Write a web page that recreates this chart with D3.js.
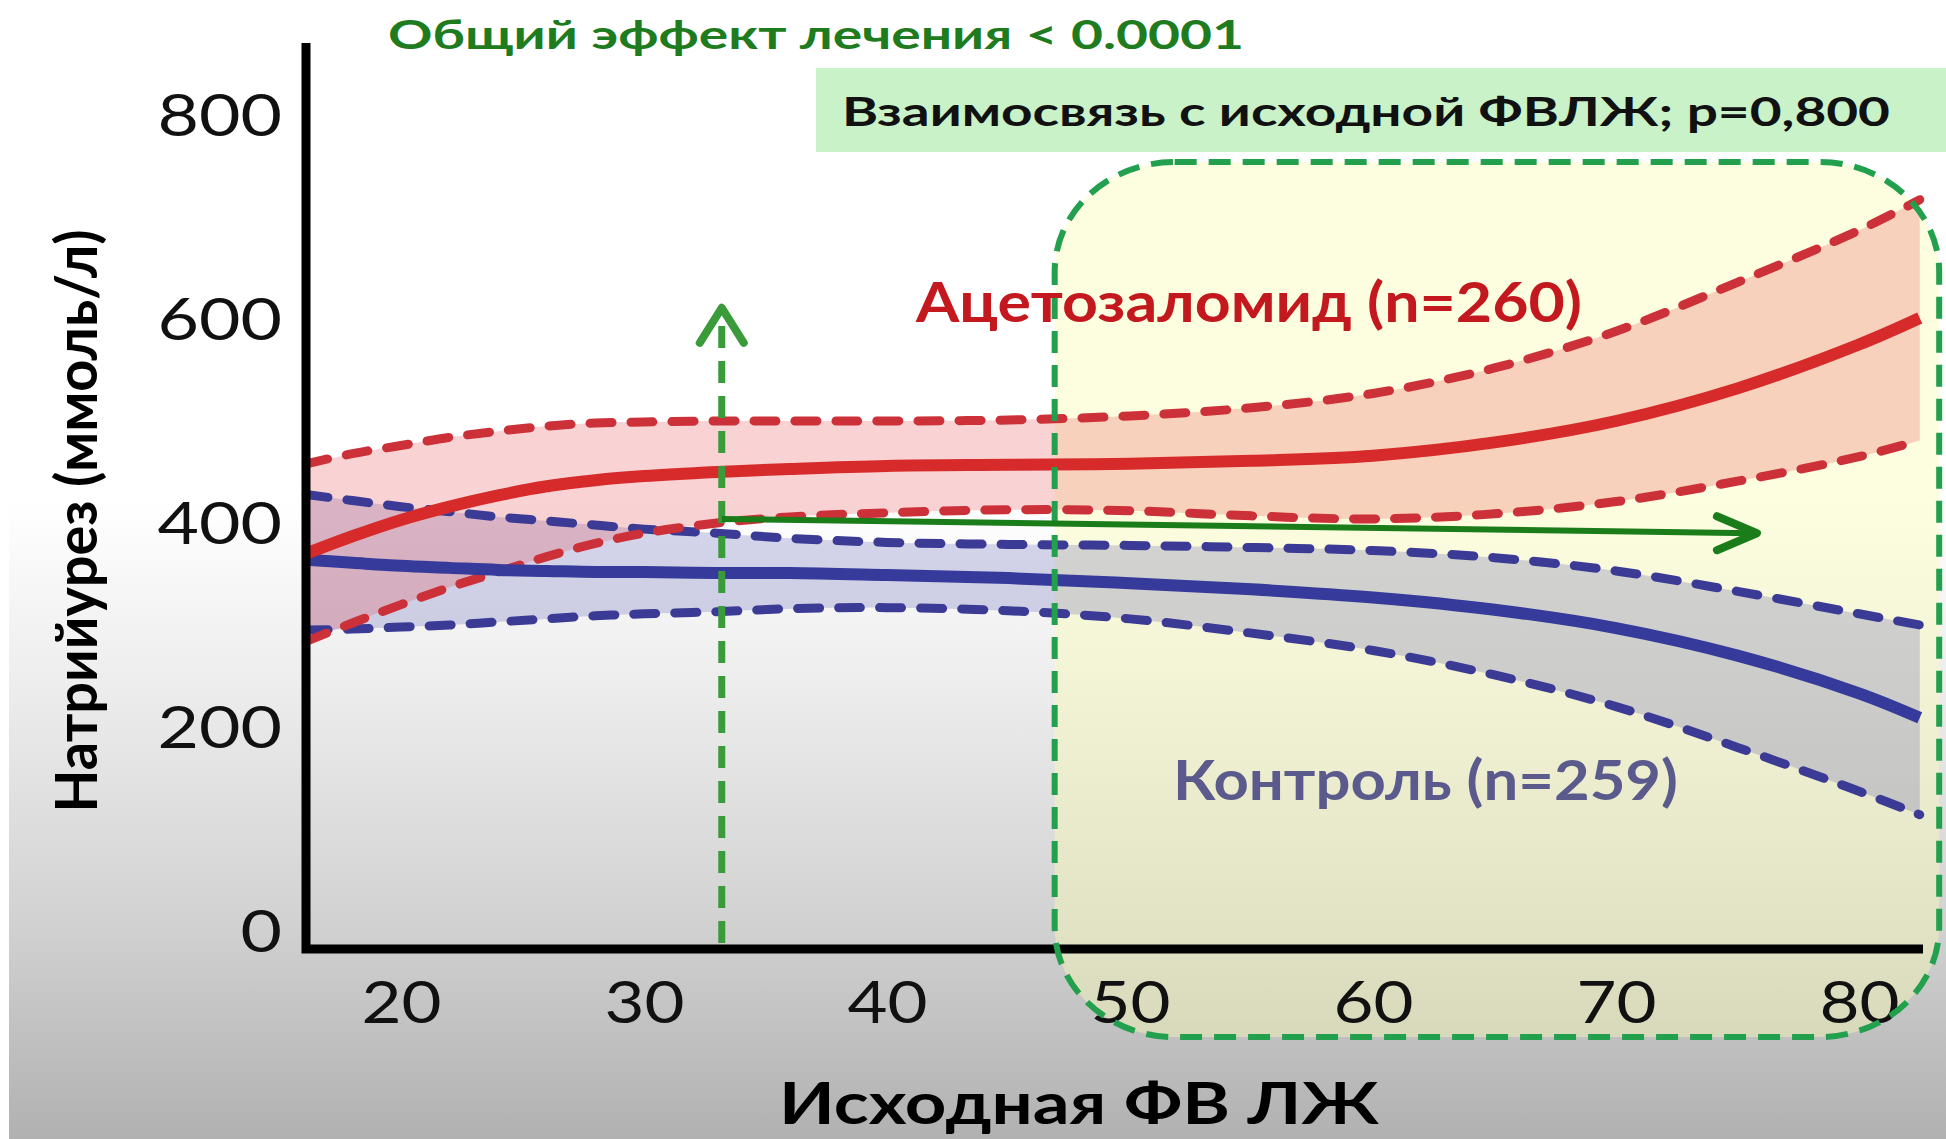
<!DOCTYPE html>
<html>
<head>
<meta charset="utf-8">
<script src="https://cdn.jsdelivr.net/npm/d3@7"></script>
<style>
  html, body { margin: 0; padding: 0; background: #fff; }
  svg { display: block; }
</style>
</head>
<body>
<svg id="chart" width="1946" height="1139"></svg>
<script>
// Baseline LVEF (%) at which the fitted curves are sampled
const efGrid = [16.1, 18, 20, 22, 24, 26, 28, 30, 33, 36, 40, 45, 50, 55, 60, 65, 70, 75, 80, 82.5];

// Natriuresis (mmol/l): acetazolamide arm, mean and 95% CI bounds
const acetoMean  = [370, 387, 403, 416, 427, 436, 442, 446, 450, 453, 456, 457, 458, 461, 466, 479, 500, 532, 575, 601];
const acetoUpper = [458, 468, 476, 484, 490, 495, 498, 499, 500, 500, 500, 501, 505, 513, 527, 552, 588, 636, 687, 717];
const acetoLower = [284, 302, 320, 337, 352, 367, 380, 390, 400, 406, 410, 413, 412, 407, 404, 409, 421, 441, 465, 481];

// Natriuresis (mmol/l): control arm, mean and 95% CI bounds
const controlMean  = [364, 361, 358, 356, 354, 353, 352, 352, 351, 351, 349, 346, 341, 335, 327, 315, 297, 270, 233, 209];
const controlUpper = [428, 422, 416, 411, 406, 402, 398, 394, 390, 385, 381, 379, 378, 376, 373, 366, 353, 333, 311, 300];
const controlLower = [295, 296, 298, 300, 303, 306, 309, 311, 313, 316, 317, 314, 306, 292, 275, 251, 220, 180, 137, 114];

// Axis ticks
const yTicks = [0, 200, 400, 600, 800];
const xTicks = [20, 30, 40, 50, 60, 70, 80];

// Annotation values: treatment-effect arrows and the preserved-EF highlight
const effectEF = 33.2;
const effectArrowTop = 611;
const effectArrowStart = 404;
const effectArrowEndEF = 75.8;
const effectArrowEnd = 390;
const highlightEF = [46.9, 83.3];
const highlightValue = [754, -104];

// Texts
const titleText = "Общий эффект лечения < 0.0001";
const interactionText = "Взаимосвязь с исходной ФВЛЖ; p=0,800";
const acetoLabel = "Ацетозаломид (n=260)";
const controlLabel = "Контроль (n=259)";
const xTitle = "Исходная ФВ ЛЖ";
const yTitle = "Натрийурез (ммоль/л)";

// ---------- layout ----------
const W = 1946, H = 1139;
const frame = { left: 306, right: 1923, top: 43, bottom: 949 };
const x = d3.scaleLinear().domain([20, 80]).range([401, 1859]);
const y = d3.scaleLinear().domain([0, 800]).range([931, 115]);

const svg = d3.select("#chart");
const defs = svg.append("defs");

// slide background: white fading to grey at the bottom
const bg = defs.append("linearGradient").attr("id", "bgGrad")
  .attr("x1", 0).attr("y1", 0).attr("x2", 0).attr("y2", 1);
[[0, "#ffffff"], [0.44, "#ffffff"], [0.6, "#ededed"], [0.8, "#d3d3d3"], [1, "#b1b1b1"]]
  .forEach(([o, c]) => bg.append("stop").attr("offset", o).attr("stop-color", c));
svg.append("rect").attr("width", W).attr("height", H).attr("fill", "url(#bgGrad)");
svg.append("rect").attr("width", 9).attr("height", H).attr("fill", "#ffffff");

// preserved-EF highlight fill (under the curves)
const hx0 = x(highlightEF[0]), hx1 = x(highlightEF[1]);
const hy0 = y(highlightValue[0]), hy1 = y(highlightValue[1]);
svg.append("rect")
  .attr("x", hx0).attr("y", hy0).attr("width", hx1 - hx0).attr("height", hy1 - hy0)
  .attr("rx", 120).attr("ry", 110)
  .attr("fill", "rgb(250,250,178)").attr("fill-opacity", 0.42);

// ---------- confidence bands ----------
const rows = efGrid.map((ef, i) => ({
  ef,
  aM: acetoMean[i], aU: acetoUpper[i], aL: acetoLower[i],
  cM: controlMean[i], cU: controlUpper[i], cL: controlLower[i]
}));
const curve = d3.curveCatmullRom.alpha(0.5);
const band = (lo, hi) => d3.area().curve(curve).x(d => x(d.ef)).y0(d => y(d[lo])).y1(d => y(d[hi]));
const line = key => d3.line().curve(curve).x(d => x(d.ef)).y(d => y(d[key]));

const plot = svg.append("g");
plot.append("path").datum(rows).attr("d", band("cL", "cU"))
  .attr("fill", "rgb(70,70,170)").attr("fill-opacity", 0.22);
plot.append("path").datum(rows).attr("d", band("aL", "aU"))
  .attr("fill", "rgb(232,80,80)").attr("fill-opacity", 0.25);

// dashed CI bounds
const dashed = (key, color) => plot.append("path").datum(rows).attr("d", line(key))
  .attr("fill", "none").attr("stroke", color).attr("stroke-width", 9)
  .attr("stroke-dasharray", "22 19").attr("stroke-linecap", "round");
dashed("cU", "#3b3b96");
dashed("cL", "#3b3b96");
dashed("aU", "#cc3038");
dashed("aL", "#cc3038");

// mean curves
plot.append("path").datum(rows).attr("d", line("cM"))
  .attr("fill", "none").attr("stroke", "#363a9a").attr("stroke-width", 12);
plot.append("path").datum(rows).attr("d", line("aM"))
  .attr("fill", "none").attr("stroke", "#d72b2b").attr("stroke-width", 12);

// ---------- axes ----------
const tickFont = "Lato, 'Open Sans', sans-serif";
const yAxis = svg.append("g").attr("transform", `translate(${frame.left},0)`)
  .call(d3.axisLeft(y).tickValues(yTicks).tickSize(0).tickPadding(24).tickFormat(d3.format("d")));
yAxis.select(".domain").remove();
yAxis.selectAll("text")
  .attr("dy", "0.36em")
  .style("font-family", tickFont).style("font-size", "58px").style("font-weight", 400)
  .attr("fill", "#111")
  .attr("textLength", d => String(d).length * 41.5).attr("lengthAdjust", "spacingAndGlyphs");

const xAxis = svg.append("g").attr("transform", `translate(0,${frame.bottom})`)
  .call(d3.axisBottom(x).tickValues(xTicks).tickSize(0).tickPadding(33).tickFormat(d3.format("d")));
xAxis.select(".domain").remove();
xAxis.selectAll("text")
  .style("font-family", tickFont).style("font-size", "58px").style("font-weight", 400)
  .attr("fill", "#111")
  .attr("textLength", d => String(d).length * 40).attr("lengthAdjust", "spacingAndGlyphs");

// axis lines
svg.append("path")
  .attr("d", `M${frame.left},${frame.top}V${frame.bottom}H${frame.right}`)
  .attr("fill", "none").attr("stroke", "#000").attr("stroke-width", 9)
  .attr("stroke-linejoin", "miter");

// ---------- highlight outline ----------
svg.append("rect")
  .attr("x", hx0).attr("y", hy0).attr("width", hx1 - hx0).attr("height", hy1 - hy0)
  .attr("rx", 120).attr("ry", 110)
  .attr("fill", "none").attr("stroke", "#22a04e").attr("stroke-width", 6)
  .attr("stroke-dasharray", "22 12");

// ---------- treatment-effect arrows ----------
const ax = x(effectEF);
svg.append("line")
  .attr("x1", ax).attr("x2", ax).attr("y1", frame.bottom - 6).attr("y2", y(effectArrowTop) + 8)
  .attr("stroke", "#3a9b3a").attr("stroke-width", 7).attr("stroke-dasharray", "22 13");
svg.append("path")
  .attr("d", `M${ax - 22},${y(effectArrowTop) + 35}L${ax},${y(effectArrowTop)}L${ax + 22},${y(effectArrowTop) + 35}`)
  .attr("fill", "none").attr("stroke", "#3a9b3a").attr("stroke-width", 8)
  .attr("stroke-linecap", "round").attr("stroke-linejoin", "round");

const hxEnd = x(effectArrowEndEF), hyEnd = y(effectArrowEnd);
svg.append("line")
  .attr("x1", ax).attr("y1", y(effectArrowStart)).attr("x2", hxEnd - 4).attr("y2", hyEnd)
  .attr("stroke", "#1a7d1a").attr("stroke-width", 6);
svg.append("path")
  .attr("d", `M${hxEnd - 40},${hyEnd - 17}L${hxEnd},${hyEnd}L${hxEnd - 40},${hyEnd + 17}`)
  .attr("fill", "none").attr("stroke", "#1a7d1a").attr("stroke-width", 8)
  .attr("stroke-linecap", "round").attr("stroke-linejoin", "round");

// ---------- texts ----------
const boldFont = "Lato, 'Open Sans', sans-serif";
function label(txt, px, py, size, fill, width, anchor = "start") {
  return svg.append("text")
    .attr("x", px).attr("y", py)
    .attr("text-anchor", anchor)
    .attr("textLength", width).attr("lengthAdjust", "spacingAndGlyphs")
    .style("font-family", boldFont).style("font-weight", 700).style("font-size", size + "px")
    .attr("fill", fill)
    .text(txt);
}

label(titleText, 388, 49, 40, "#1e7b1e", 856);

svg.append("rect").attr("x", 816).attr("y", 68).attr("width", W - 816).attr("height", 84)
  .attr("fill", "#c9f2c9");
label(interactionText, 842, 126, 40, "#111111", 1048);

label(acetoLabel, 916, 322, 56, "#c2181e", 666);
label(controlLabel, 1173, 800, 56, "#5a5b8c", 505);

label(xTitle, 779, 1124, 58, "#000000", 600);

svg.append("text")
  .attr("transform", "translate(97,521) rotate(-90)")
  .attr("text-anchor", "middle")
  .attr("textLength", 583).attr("lengthAdjust", "spacingAndGlyphs")
  .style("font-family", boldFont).style("font-weight", 700).style("font-size", "58px")
  .attr("fill", "#000")
  .text(yTitle);
</script>
</body>
</html>
